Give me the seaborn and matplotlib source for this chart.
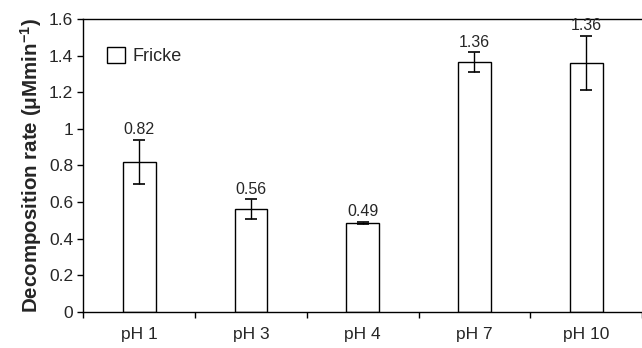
import matplotlib
matplotlib.use("Agg")
import matplotlib.pyplot as plt
import numpy as np
import pandas as pd
import seaborn as sns
from matplotlib.patches import Patch

categories = ["pH 1", "pH 3", "pH 4", "pH 7", "pH 10"]
rates = [0.82, 0.56, 0.487, 1.365, 1.36]
errors = [0.12, 0.055, 0.005, 0.053, 0.148]
value_labels = ["0.82", "0.56", "0.49", "1.36", "1.36"]

sns.set_theme(style="white")
plt.rcParams["font.family"] = ["Liberation Sans", "DejaVu Sans"]
plt.rcParams["mathtext.fontset"] = "custom"
plt.rcParams["mathtext.rm"] = "Liberation Sans"
plt.rcParams["mathtext.bf"] = "Liberation Sans:bold"

df = pd.DataFrame({"Condition": categories, "Rate": rates})

fig = plt.figure(figsize=(6.42, 3.48), dpi=100)
ax = fig.add_axes([0.13, 0.104, 0.87, 0.841])

sns.barplot(data=df, x="Condition", y="Rate", color="white", edgecolor="black",
            linewidth=1.0, width=0.295, saturation=1, ax=ax)
pos = np.arange(len(categories))
ax.errorbar(pos, rates, yerr=errors, fmt="none", ecolor="black",
            elinewidth=1.0, capsize=4.3, capthick=1.2)

for x, v, e, lab in zip(pos, rates, errors, value_labels):
    ax.text(x, v + e + 0.055, lab, ha="center", va="center", fontsize=11.5)

ax.set_ylim(0, 1.6)
ax.set_xlim(-0.5, 4.42)
ax.set_yticks(np.arange(0, 1.61, 0.2))
ax.set_yticklabels(["0", "0.2", "0.4", "0.6", "0.8", "1", "1.2", "1.4", "1.6"])
ax.tick_params(axis="y", which="major", direction="out", length=4.3, width=1,
               color="black", left=True, labelsize=12.5, pad=3)
ax.tick_params(axis="x", which="major", length=0, labelsize=12.5, pad=11)
ax.set_xticks(np.arange(-0.5, 5, 1), minor=True)
ax.tick_params(axis="x", which="minor", direction="out", length=4.3, width=1,
               color="black", bottom=True)

ax.set_xlabel("")
ax.set_ylabel(r"Decomposition rate (μMmin$\mathbf{^{-1}}$)",
              fontsize=14.8, fontweight="bold", labelpad=4)

for side in ["left", "bottom", "top"]:
    ax.spines[side].set_visible(True)
    ax.spines[side].set_color("black")
    ax.spines[side].set_linewidth(1.0)
ax.spines["right"].set_visible(False)

handle = Patch(facecolor="white", edgecolor="black", linewidth=1.0)
ax.legend([handle], ["Fricke"], loc="upper left", frameon=False,
          handlelength=1.0, handleheight=1.0, handletextpad=0.4,
          fontsize=13, bbox_to_anchor=(0.03, 0.93), borderaxespad=0)

fig.savefig("out.png", dpi=100)
